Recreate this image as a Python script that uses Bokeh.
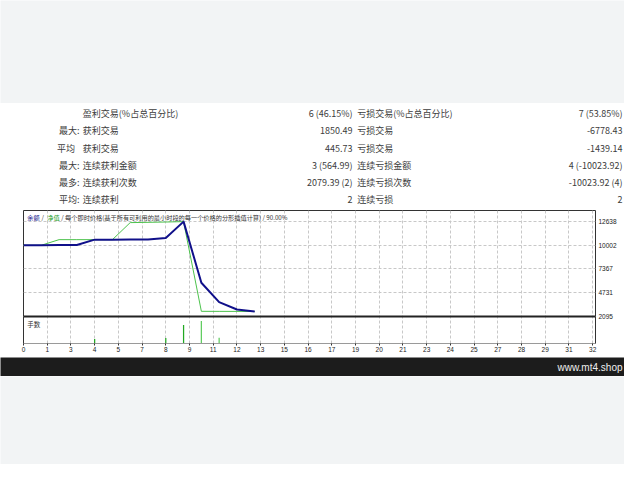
from bokeh.plotting import figure
from bokeh.layouts import column
from bokeh.models import Range1d, FixedTicker, CustomJSTickFormatter, Span
from bokeh.core.properties import value
from bokeh.embed import file_html
from bokeh.resources import INLINE

# ---------------- data ----------------
row_prefix = ["", "最大:", "平均\u2002", "最大:", "最多:", "平均:"]
win_labels = ["盈利交易(%占总百分比)", "获利交易", "获利交易", "连续获利金额", "连续获利次数", "连续获利"]
win_values = ["6 (46.15%)", "1850.49", "445.73", "3 (564.99)", "2079.39 (2)", "2"]
loss_labels = ["亏损交易(%占总百分比)", "亏损交易", "亏损交易", "连续亏损金额", "连续亏损次数", "连续亏损"]
loss_values = ["7 (53.85%)", "-6778.43", "-1439.14", "4 (-10023.92)", "-10023.92 (4)", "2"]

trade_n = [0, 1, 2, 3, 4, 5, 6, 7, 8, 9, 10, 11, 12, 13]
balance = [10000, 10010, 10020, 10030, 10624, 10624, 10628, 10632, 10802, 12626, 5842, 3685, 2873, 2651]
equity = [10000, 10000, 10624, 10624, 10624, 10624, 12515, 12545, 12580, 12626, 2670, 2665, 2660, 2651]

lot_trades_dark = [4, 8, 9]
lots_dark = [0.10, 0.12, 0.41]
lot_trades_light = [10, 11]
lots_light = [0.50, 0.13]

x_ticks = [i * 32 / 24 for i in range(25)]
x_tick_labels = ["0", "1", "3", "4", "5", "7", "8", "9", "11", "12", "13", "15", "16",
                 "17", "19", "20", "21", "23", "24", "25", "27", "28", "29", "31", "32"]
y_ticks = [2095, 4731, 7367, 10002, 12638]

header_parts = ["余额", "/", "净值", "/ 每个即时价格(基于所有可利用的最小时段的每一个价格的分形插值计算) / 90.00%"]
header_colors = ["#10108a", "#333333", "#1f9e1f", "#333333"]
lots_title = "手数"
site = "www.mt4.shop"

GRAY = "#f2f4f5"
TXT = "#3c3c3c"
CJK = value("Noto Sans CJK SC")
W = 624


def no_align(fig):
    if "frame_align" in fig.properties():
        fig.frame_align = False


def band(height, color):
    f = figure(width=W, height=height, x_range=Range1d(0, W), y_range=Range1d(height, 0),
               output_backend="svg", toolbar_location=None, x_axis_type=None, y_axis_type=None,
               min_border=0)
    f.outline_line_color = None
    f.background_fill_color = color
    f.border_fill_color = color
    no_align(f)
    return f


# ---------------- top band + statistics table ----------------
top = band(103, GRAY)
top.rect(x=[312], y=[50], width=1, height=1, fill_alpha=0, line_alpha=0)

t = band(105, "white")
rows = [10.3 + 17.1 * i for i in range(6)]
common = dict(text_baseline="middle", text_color=TXT, text_font=CJK, text_font_size="9px")
t.text(x=79, y=rows, text=row_prefix, text_align="right", **common)
t.text(x=82.3, y=rows, text=win_labels, text_align="left", **common)
t.text(x=352, y=rows, text=win_values, text_align="right", **common)
t.text(x=356.7, y=rows, text=loss_labels, text_align="left", **common)
t.text(x=622, y=rows, text=loss_values, text_align="right", **common)

# ---------------- chart ----------------
p = figure(width=W, height=149, x_range=Range1d(0, 32.16), y_range=Range1d(-902, 13859),
           y_axis_location="right", output_backend="svg", toolbar_location=None,
           min_border_left=23, min_border_right=29, min_border_top=2, min_border_bottom=14)
no_align(p)
p.extra_y_ranges = {"lots": Range1d(0, 0.6 * 133 / 27)}
p.background_fill_color = "white"
p.border_fill_color = "white"
p.outline_line_color = "#333333"
p.outline_line_width = 1

p.xaxis.ticker = FixedTicker(ticks=x_ticks)
p.xaxis.formatter = CustomJSTickFormatter(args=dict(labels=x_tick_labels),
                                          code="return labels[Math.round(tick*24/32)];")
p.yaxis.ticker = FixedTicker(ticks=y_ticks)
for ax in (p.xaxis, p.yaxis):
    ax.major_label_text_font = "Liberation Sans"
    ax.major_label_text_font_size = "6.5px"
    ax.major_label_text_color = "#222222"
    ax.major_tick_in = 0
    ax.major_tick_out = 2
    ax.major_tick_line_color = "#333333"
    ax.minor_tick_line_color = None
    ax.major_label_standoff = 1
p.xaxis.axis_line_color = "#9a9a9a"
p.yaxis.axis_line_color = None
p.yaxis.major_tick_out = 0
p.yaxis.major_label_standoff = 3

for g in (p.xgrid, p.ygrid):
    g.grid_line_color = "#c8c8c8"
    g.grid_line_dash = "3 2"
    g.grid_line_width = 1

p.line(trade_n, equity, line_color="#4cc24c", line_width=1)
p.line(trade_n, balance, line_color="#10108a", line_width=2)
p.vbar(x=lot_trades_dark, top=lots_dark, bottom=0, width=0.07, y_range_name="lots",
       fill_color="#22a822", line_color=None)
p.vbar(x=lot_trades_light, top=lots_light, bottom=0, width=0.07, y_range_name="lots",
       fill_color="#5fcc5f", line_color=None)

p.add_layout(Span(location=2095, dimension="width", line_color="#222222", line_width=2))

p.text(x=[0, 0, 0, 0], y=[13859] * 4, text=header_parts, text_color=header_colors,
       x_offset=[3.7, 19.3, 23.7, 37.8], text_align=["left", "center", "left", "left"],
       y_offset=6.5, text_baseline="middle", text_font=CJK, text_font_size="6.2px")
p.text(x=[0], y=[2095], text=[lots_title], x_offset=3.7, y_offset=8, text_baseline="middle",
       text_color="#333333", text_font=CJK, text_font_size="6.5px")

# ---------------- footer ----------------
bar = band(19, "#1c1c1c")
bar.text(x=[622], y=[9.5], text=[site], text_align="right", text_baseline="middle",
         text_color="#eeeeee", text_font=value("Liberation Sans"), text_font_size="10px")
bottom = band(88, GRAY)
bottom.rect(x=[312], y=[44], width=1, height=1, fill_alpha=0, line_alpha=0)

layout = column(top, t, p, bar, bottom, spacing=0)
open("out.html", "w").write(file_html(layout, INLINE))
